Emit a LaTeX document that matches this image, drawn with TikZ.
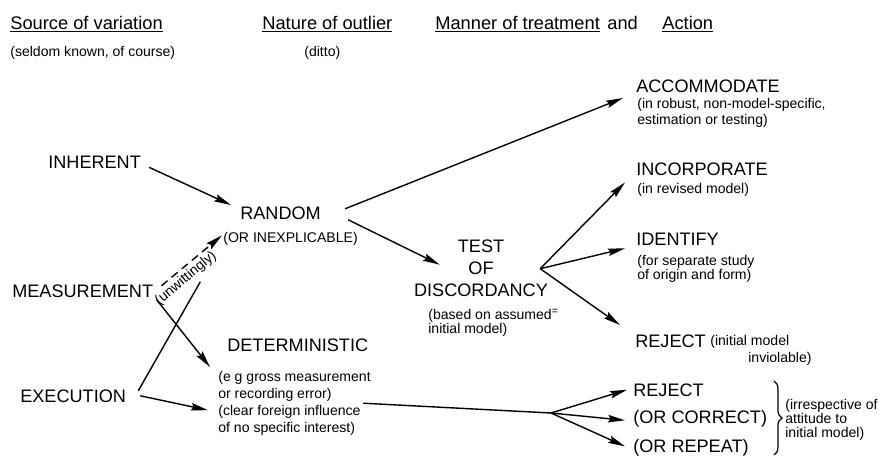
\documentclass[tikz,border=0pt]{standalone}
\usepackage{fontspec}
\setmainfont{Liberation Sans}
\usetikzlibrary{arrows.meta, decorations.pathreplacing}

\begin{document}
\begin{tikzpicture}[
  x=0.02cm, y=-0.02cm,
  head/.style={font=\fontsize{10.4}{12}\selectfont, inner sep=0pt, anchor=base west},
  caps/.style={font=\fontsize{10.3}{12.5}\selectfont, inner sep=0pt, anchor=base west},
  note/.style={font=\fontsize{8}{9.6}\selectfont, inner sep=0pt, anchor=base west, align=left},
  arr/.style={line width=0.8pt, -{Stealth[length=3.4mm, width=1.5mm, inset=0.5mm]}},
  link/.style={line width=0.8pt}
]
  \useasboundingbox (0,0) rectangle (883,457);

  \node[head] (h1) at (10,29) {\underline{Source of variation}};
  \node[note] (h1n) at (10,56) {(seldom known, of course)};
  \node[head] (h2) at (262,29) {\underline{Nature of outlier}};
  \node[note] (h2n) at (304,56) {(ditto)};
  \node[head] (h3) at (435,29) {\underline{Manner of treatment}};
  \node[head] (h3b) at (607,29) {and};
  \node[head] (h4) at (662,29) {\underline{Action}};

  \node[caps] (inh) at (48,168) {INHERENT};
  \node[caps] (meas) at (12,297) {MEASUREMENT};
  \node[caps] (exe) at (20,402) {EXECUTION};

  \node[caps] (rnd) at (240,219) {RANDOM};
  \node[note] (rndn) at (223,242) {(OR INEXPLICABLE)};
  \node[caps] (det) at (227,351) {DETERMINISTIC};
  \node[note, anchor=north west] (detn) at (218,371) {(e g gross measurement\\or recording error)\\(clear foreign influence\\of no specific interest)};

  \node[caps, anchor=north, align=center, font=\fontsize{10.3}{12.5}\selectfont] (test) at (481,240) {TEST\\OF\\DISCORDANCY};
  \node[note, anchor=north west, font=\fontsize{8}{8}\selectfont] (testn) at (428,309) {(based on assumed\textsuperscript{=}\\initial model)};

  \node[caps] (acc) at (636,92) {ACCOMMODATE};
  \node[note, anchor=north west, font=\fontsize{8}{9}\selectfont] (accn) at (637,98) {(in robust, non-model-specific,\\estimation or testing)};
  \node[caps] (inc) at (636,175) {INCORPORATE};
  \node[note] (incn) at (637,193) {(in revised model)};
  \node[caps] (idf) at (636,245) {IDENTIFY};
  \node[note, anchor=north west, font=\fontsize{8}{8}\selectfont] (idfn) at (637,255) {(for separate study\\of origin and form)};
  \node[caps] (rej1) at (635,347) {REJECT};
  \node[note, anchor=north west] (rej1n) at (710,335) {(initial model\\\hspace*{0.76cm}inviolable)};

  \node[caps] (rej2) at (633,396) {REJECT};
  \node[caps] (corr) at (633,423) {(OR CORRECT)};
  \node[caps] (rep) at (633,452) {(OR REPEAT)};
  \node[note, anchor=north west, font=\fontsize{8}{8}\selectfont] (irr) at (785,399) {(irrespective of\\attitude to\\initial model)};
  \draw[line width=0.7pt, decorate, decoration={brace, amplitude=4.5pt}] (774,381) -- (774,455);

  \draw[arr] ([shift={(8,-1)}]inh.south east) -- ([shift={(-9,-1)}]rnd.north west);
  \draw[arr] ([shift={(24,-4)}]rnd.east) -- ([shift={(-14,0)}]accn.north west);
  \draw[arr] ([shift={(27,7)}]rnd.east) -- ([shift={(26,-4)}]test.west);
  \coordinate (tb) at ([shift={(-8,0)}]test.east);
  \draw[arr] (tb) -- ([shift={(-12,0)}]incn.north west);
  \draw[arr] (tb) -- ([shift={(-11,3)}]idf.south west);
  \draw[arr] (tb) -- ([shift={(-15,-9)}]rej1.north west);

  \draw[arr, dash pattern=on 4.5pt off 3pt] ([shift={(8,-5)}]meas.east) -- ([shift={(-1,-3)}]rndn.west)
    node[pos=0.3, sloped, below, inner sep=1.5pt, font=\fontsize{8}{9.6}\selectfont] (unw) {(unwittingly)};
  \draw[link] ([shift={(12,-5)}]exe.east) -- ([shift={(8,-4)}]unw.south);
  \draw[arr] ([shift={(3,2)}]meas.south east) -- ([shift={(-8,-4)}]detn.north west);
  \draw[arr] ([shift={(14,0)}]exe.east) -- ([shift={(-10,7)}]detn.west);

  \coordinate (split) at (551,413);
  \draw[link] ([shift={(-8,0)}]detn.east) -- (split);
  \draw[arr] (split) -- ([shift={(-6,0)}]rej2.west);
  \draw[arr] (split) -- ([shift={(-8,2)}]corr.west);
  \draw[arr] (split) -- ([shift={(-8,-1)}]rep.west);
\end{tikzpicture}
\end{document}
